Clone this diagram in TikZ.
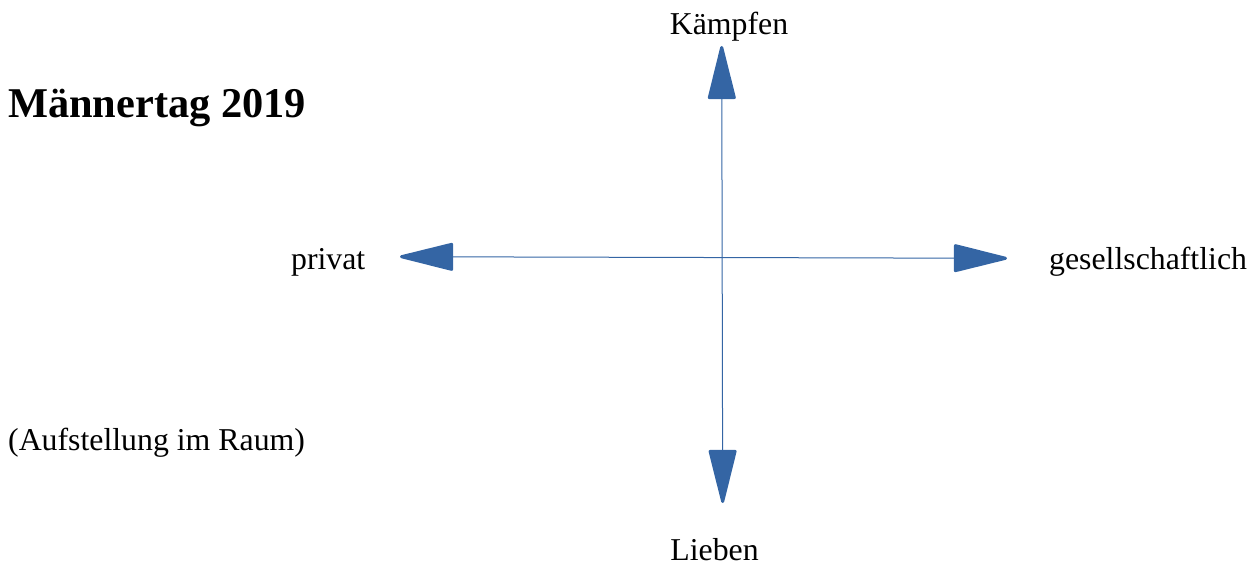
\documentclass[tikz,border=0pt]{standalone}
\usepackage{fontspec}
\setmainfont{Liberation Serif}
\usetikzlibrary{arrows.meta}
\definecolor{axisblue}{HTML}{3465A4}
\begin{document}
\begin{tikzpicture}[x=1bp,y=-1bp,
  label text/.style={inner sep=0pt, font=\fontsize{31.8bp}{38bp}\selectfont},
  title text/.style={inner sep=0pt, font=\fontsize{42.4bp}{50bp}\selectfont\bfseries},
  tip/.tip={Triangle[length=58bp,width=28bp,round,line width=3bp]},
  axis/.style={draw=axisblue, line width=1bp, tip-tip}]
  \useasboundingbox (0,0) rectangle (1255,566);

  % axis end points
  \coordinate (up) at (721.7,46);
  \coordinate (down) at (722.7,503);
  \coordinate (left) at (400,256.7);
  \coordinate (right) at (1007,258.3);

  % axes
  \draw[axis] (left) -- (right);
  \draw[axis] (up) -- (down);

  % labels
  \node[title text, anchor=base west] (title) at (8,118) {Männertag 2019};
  \node[label text, anchor=base west] (note) at (8,450) {(Aufstellung im Raum)};
  \node[label text, anchor=base] (fight) at (729,35) {Kämpfen};
  \node[label text, anchor=base] (love) at (714.5,560) {Lieben};
  \node[label text, anchor=base east] (private) at (365.5,270) {privat};
  \node[label text, anchor=base west] (social) at (1049,270) {gesellschaftlich};
\end{tikzpicture}
\end{document}
